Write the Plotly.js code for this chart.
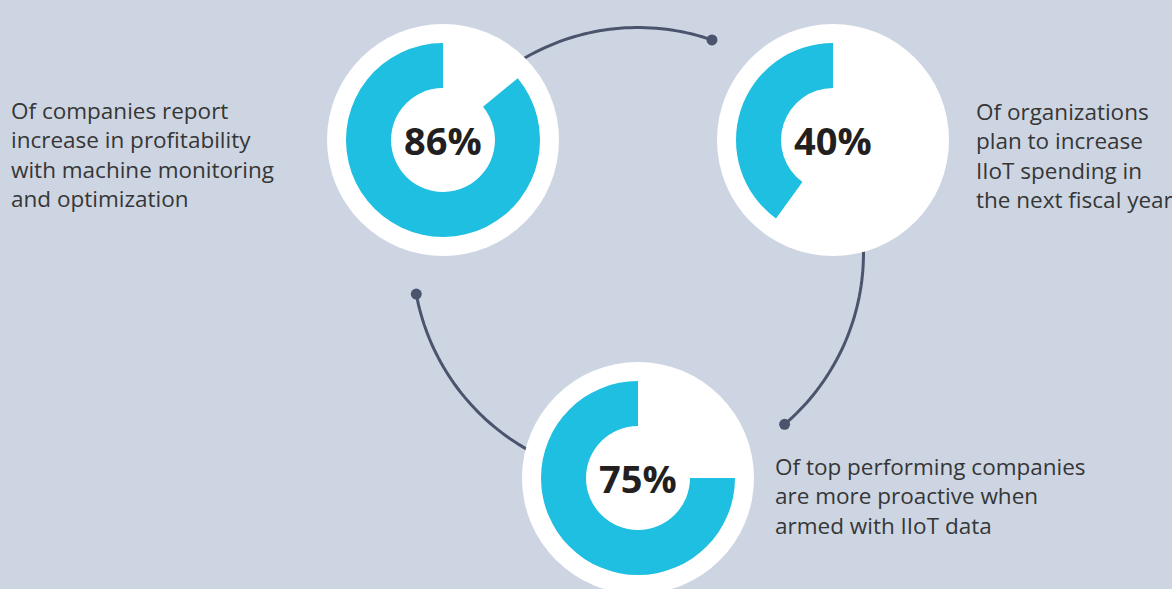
<!DOCTYPE html>
<html>
<head>
<meta charset="utf-8">
<script src="https://cdn.plot.ly/plotly-3.0.1.min.js"></script>
<style>html,body{margin:0;padding:0;background:#cdd5e2;}#chart{width:1172px;height:589px;}</style>
</head>
<body>
<div id="chart"></div>
<script>
// ---- data ----
const percents = [86, 40, 75];
const percentLabels = ['86%', '40%', '75%'];
const descriptions = [
  'Of companies report<br>increase in profitability<br>with machine monitoring<br>and optimization',
  'Of organizations<br>plan to increase<br>IIoT spending in<br>the next fiscal year',
  'Of top performing companies<br>are more proactive when<br>armed with IIoT data'
];

// ---- layout geometry (pixels) ----
const W = 1172, H = 589;
const centers = [[443, 140], [833, 140], [638, 478]];
const outerR = 97, discR = 116, holeFrac = 0.536;
const ringC = [638, 253], ringR = 225.5;
const arcs = [[150, 70.85], [30, -49.45], [270, 190.5]];
const descPos = [
  {x: 9, y: 154},
  {x: 974, y: 155},
  {x: 773, y: 496}
];
const CYAN = '#1ebfe0', LINE = '#4b546d', BG = '#cdd5e2';

function pt(a) {
  const r = a * Math.PI / 180;
  return [ringC[0] + ringR * Math.cos(r), ringC[1] - ringR * Math.sin(r)];
}
function arcPath(a0, a1) {
  const n = 60; let d = '';
  for (let i = 0; i <= n; i++) {
    const p = pt(a0 + (a1 - a0) * i / n);
    d += (i === 0 ? 'M' : 'L') + p[0].toFixed(2) + ',' + p[1].toFixed(2) + ' ';
  }
  return d;
}

const shapes = [];
arcs.forEach(a => {
  shapes.push({type: 'path', xref: 'x', yref: 'y', layer: 'below', path: arcPath(a[0], a[1]),
    line: {color: LINE, width: 3}});
  const e = pt(a[1]);
  shapes.push({type: 'circle', xref: 'x', yref: 'y', layer: 'below',
    x0: e[0] - 5.5, x1: e[0] + 5.5, y0: e[1] - 5.5, y1: e[1] + 5.5,
    fillcolor: LINE, line: {width: 0}});
});
centers.forEach(c => {
  shapes.push({type: 'circle', xref: 'x', yref: 'y', layer: 'below',
    x0: c[0] - discR, x1: c[0] + discR, y0: c[1] - discR, y1: c[1] + discR,
    fillcolor: '#ffffff', line: {width: 0}});
});

// remainder first (clockwise from 12 o'clock), so the share ends at 12 o'clock
const traces = percents.map((p, i) => {
  const c = centers[i];
  return {
    type: 'pie',
    values: [100 - p, p],
    labels: ['rest', 'share'],
    sort: false,
    direction: 'clockwise',
    rotation: 0,
    hole: holeFrac,
    marker: {colors: ['#ffffff', CYAN], line: {width: 0}},
    textinfo: 'none',
    hoverinfo: 'skip',
    showlegend: false,
    domain: {
      x: [(c[0] - outerR) / W, (c[0] + outerR) / W],
      y: [1 - (c[1] + outerR) / H, 1 - (c[1] - outerR) / H]
    }
  };
});

const annotations = [];
percentLabels.forEach((t, i) => {
  annotations.push({x: centers[i][0], y: centers[i][1], xref: 'x', yref: 'y', text: '<b>' + t + '</b>',
    showarrow: false, xanchor: 'center', yanchor: 'middle',
    font: {family: 'Open Sans, sans-serif', size: 38, color: '#231f20'}});
});
descriptions.forEach((t, i) => {
  annotations.push({x: descPos[i].x, y: descPos[i].y, xref: 'x', yref: 'y', text: t,
    showarrow: false, xanchor: 'left', yanchor: 'middle', align: 'left',
    font: {family: 'Open Sans, sans-serif', size: 22.5, color: '#363636'}});
});

const layout = {
  width: W, height: H,
  margin: {l: 0, r: 0, t: 0, b: 0},
  paper_bgcolor: BG, plot_bgcolor: BG,
  xaxis: {range: [0, W], visible: false, fixedrange: true},
  yaxis: {range: [H, 0], visible: false, fixedrange: true},
  shapes: shapes,
  annotations: annotations
};

Plotly.newPlot('chart', traces, layout, {staticPlot: true, displayModeBar: false});
</script>
</body>
</html>
